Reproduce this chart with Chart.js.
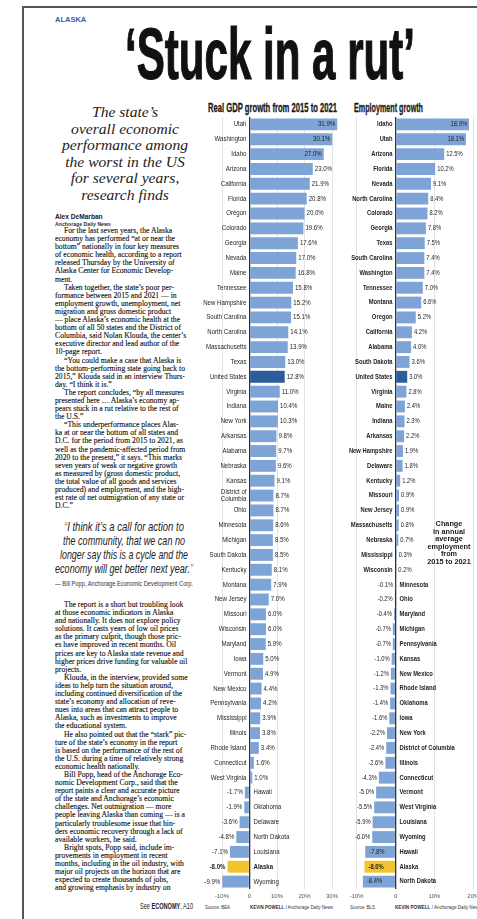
<!DOCTYPE html>
<html>
<head>
<meta charset="utf-8">
<script src="https://cdn.jsdelivr.net/npm/chart.js@4"></script>
<style>
  html, body { margin: 0; padding: 0; background: #fff; overflow: hidden; width: 477px; height: 919px; }
  body { position: relative; color: #1a1a1a; }
  .abs { position: absolute; white-space: nowrap; }
  .frame { position: absolute; left: 22px; top: 6px; width: 470px; height: 930px; border-left: 2px solid #555; border-top: 2px solid #555; }
  .sans { font-family: "Liberation Sans", Arimo, Arial, sans-serif; }
  .serif { font-family: "Liberation Serif", "DejaVu Serif", serif; }
  .body { left: 55px; width: 140px; font-size: 7.7px; line-height: 8.1px; color: #111; -webkit-text-stroke: 0.12px #111; }
  .body div { white-space: nowrap; }
  .body .in { text-indent: 9px; }
  .deck { left: 55px; width: 140px; text-align: center; font-style: italic; font-size: 15.6px; line-height: 16.6px; color: #222; }
  .ql { font-style: italic; font-size: 12.6px; line-height: 14px; color: #222; }
  .ql .q { color: #888; }
  .note { left: 420px; width: 58px; text-align: center; font-weight: bold; font-size: 7.3px; line-height: 7.6px; }
  .credit { font-size: 5.6px; color: #333; }
  canvas { position: absolute; }
</style>
</head>
<body>
<div class="frame"></div>
<div class="abs sans" style="left:55px;top:15px;font-size:7.5px;font-weight:bold;color:#2f62b0;">ALASKA</div>
<div class="abs sans" data-w="290" style="left:125px;top:18px;font-size:72px;line-height:72px;font-weight:bold;color:#111;-webkit-text-stroke:1.2px #111;">‘Stuck in a rut’</div>

<div class="abs deck serif" style="top:104px;">The state’s<br>overall economic<br>performance among<br>the worst in the US<br>for several years,<br>research finds</div>

<div class="abs sans" style="left:55px;top:213px;font-size:6.6px;font-weight:bold;">Alex DeMarban</div>
<div class="abs sans" style="left:55px;top:220.5px;font-size:5.2px;font-weight:bold;color:#333;">Anchorage Daily News</div>

<div class="abs body serif" style="top:227px;">
<div class="in">For the last seven years, the Alaska</div>
<div>economy has performed “at or near the</div>
<div>bottom” nationally in four key measures</div>
<div>of economic health, according to a report</div>
<div>released Thursday by the University of</div>
<div>Alaska Center for Economic Develop-</div>
<div>ment.</div>
<div class="in">Taken together, the state’s poor per-</div>
<div>formance between 2015 and 2021 — in</div>
<div>employment growth, unemployment, net</div>
<div>migration and gross domestic product</div>
<div>— place Alaska’s economic health at the</div>
<div>bottom of all 50 states and the District of</div>
<div>Columbia, said Nolan Klouda, the center’s</div>
<div>executive director and lead author of the</div>
<div>10-page report.</div>
<div class="in">“You could make a case that Alaska is</div>
<div>the bottom-performing state going back to</div>
<div>2015,” Klouda said in an interview Thurs-</div>
<div>day. “I think it is.”</div>
<div class="in">The report concludes, “by all measures</div>
<div>presented here … Alaska’s economy ap-</div>
<div>pears stuck in a rut relative to the rest of</div>
<div>the U.S.”</div>
<div class="in">“This underperformance places Alas-</div>
<div>ka at or near the bottom of all states and</div>
<div>D.C. for the period from 2015 to 2021, as</div>
<div>well as the pandemic-affected period from</div>
<div>2020 to the present,” it says. “This marks</div>
<div>seven years of weak or negative growth</div>
<div>as measured by (gross domestic product,</div>
<div>the total value of all goods and services</div>
<div>produced) and employment, and the high-</div>
<div>est rate of net outmigration of any state or</div>
<div>D.C.”</div>
</div>

<div class="abs ql sans" data-w="120" style="left:64px;top:520px;"><span class="q">“</span>I think it’s a call for action to</div>
<div class="abs ql sans" data-w="122" style="left:63px;top:534px;">the community, that we can no</div>
<div class="abs ql sans" data-w="128" style="left:60px;top:548px;">longer say this is a cycle and the</div>
<div class="abs ql sans" data-w="138" style="left:55px;top:562px;">economy will get better next year.<span class="q">”</span></div>
<div class="abs sans" data-w="138" style="left:55px;top:580px;font-size:6.3px;color:#333;">— Bill Popp, Anchorage Economic Development Corp.</div>

<div class="abs body serif" style="top:601px;">
<div class="in">The report is a short but troubling look</div>
<div>at those economic indicators in Alaska</div>
<div>and nationally. It does not explore policy</div>
<div>solutions. It casts years of low oil prices</div>
<div>as the primary culprit, though those pric-</div>
<div>es have improved in recent months. Oil</div>
<div>prices are key to Alaska state revenue and</div>
<div>higher prices drive funding for valuable oil</div>
<div>projects.</div>
<div class="in">Klouda, in the interview, provided some</div>
<div>ideas to help turn the situation around,</div>
<div>including continued diversification of the</div>
<div>state’s economy and allocation of reve-</div>
<div>nues into areas that can attract people to</div>
<div>Alaska, such as investments to improve</div>
<div>the educational system.</div>
<div class="in">He also pointed out that the “stark” pic-</div>
<div>ture of the state’s economy in the report</div>
<div>is based on the performance of the rest of</div>
<div>the U.S. during a time of relatively strong</div>
<div>economic health nationally.</div>
<div class="in">Bill Popp, head of the Anchorage Eco-</div>
<div>nomic Development Corp., said that the</div>
<div>report paints a clear and accurate picture</div>
<div>of the state and Anchorage’s economic</div>
<div>challenges. Net outmigration — more</div>
<div>people leaving Alaska than coming — is a</div>
<div>particularly troublesome issue that hin-</div>
<div>ders economic recovery through a lack of</div>
<div>available workers, he said.</div>
<div class="in">Bright spots, Popp said, include im-</div>
<div>provements in employment in recent</div>
<div>months, including in the oil industry, with</div>
<div>major oil projects on the horizon that are</div>
<div>expected to create thousands of jobs,</div>
<div>and growing emphasis by industry on</div>
</div>
<div class="abs sans" data-w="53" style="left:140px;top:901px;font-size:8.6px;">See <b>ECONOMY</b>, A10</div>

<div class="abs sans" data-w="129" style="left:208px;top:100px;font-size:13px;line-height:15px;font-weight:bold;-webkit-text-stroke:0.3px #111;">Real GDP growth from 2015 to 2021</div>
<div class="abs sans" data-w="69" style="left:354px;top:100px;font-size:13px;line-height:15px;font-weight:bold;-webkit-text-stroke:0.3px #111;">Employment growth</div>

<canvas id="gdpChart" width="143" height="784" style="left:200px;top:117px;"></canvas>
<canvas id="empChart" width="140" height="784" style="left:345px;top:117px;"></canvas>

<div class="abs note sans" style="top:520px;">Change<br>in annual<br>average<br>employment<br>from<br>2015 to 2021</div>

<div class="abs credit sans" data-w="25" style="left:205px;top:904px;">Source: BEA</div>
<div class="abs credit sans" data-w="83" style="left:250px;top:904px;"><b>KEVIN POWELL</b> / Anchorage Daily News</div>
<div class="abs credit sans" data-w="25" style="left:350px;top:904px;">Source: BLS</div>
<div class="abs credit sans" data-w="86" style="left:395px;top:904px;"><b>KEVIN POWELL</b> / Anchorage Daily News</div>

<script>
const gdpStates = ["Utah", "Washington", "Idaho", "Arizona", "California", "Florida", "Oregon", "Colorado",
  "Georgia", "Nevada", "Maine", "Tennessee", "New Hampshire", "South Carolina", "North Carolina",
  "Massachusetts", "Texas", "United States", "Virginia", "Indiana", "New York", "Arkansas", "Alabama",
  "Nebraska", "Kansas", ["District of", "Columbia"], "Ohio", "Minnesota", "Michigan", "South Dakota",
  "Kentucky", "Montana", "New Jersey", "Missouri", "Wisconsin", "Maryland", "Iowa", "Vermont",
  "New Mexico", "Pennsylvania", "Mississippi", "Illinois", "Rhode Island", "Connecticut",
  "West Virginia", "Hawaii", "Oklahoma", "Delaware", "North Dakota", "Louisiana", "Alaska", "Wyoming"];
const gdpValues = [31.9, 30.1, 27.0, 23.0, 21.9, 20.8, 20.0, 19.6, 17.6, 17.0, 16.8, 15.8, 15.2, 15.1,
  14.1, 13.9, 13.0, 12.8, 11.0, 10.4, 10.3, 9.8, 9.7, 9.6, 9.1, 8.7, 8.7, 8.6, 8.5, 8.5, 8.1, 7.9, 7.0,
  6.0, 6.0, 5.9, 5.0, 4.9, 4.4, 4.2, 3.9, 3.8, 3.4, 1.6, 1.0, -1.7, -1.9, -3.6, -4.8, -7.1, -8.0, -9.9];
const gdpTicks = [-10, 0, 10, 20, 30];

const empStates = ["Idaho", "Utah", "Arizona", "Florida", "Nevada", "North Carolina", "Colorado", "Georgia",
  "Texas", "South Carolina", "Washington", "Tennessee", "Montana", "Oregon", "California", "Alabama",
  "South Dakota", "United States", "Virginia", "Maine", "Indiana", "Arkansas", "New Hampshire",
  "Delaware", "Kentucky", "Missouri", "New Jersey", "Massachusetts", "Nebraska", "Mississippi",
  "Wisconsin", "Minnesota", "Ohio", "Maryland", "Michigan", "Pennsylvania", "Kansas", "New Mexico",
  "Rhode Island", "Oklahoma", "Iowa", "New York", "District of Columbia", "Illinois", "Connecticut",
  "Vermont", "West Virginia", "Louisiana", "Wyoming", "Hawaii", "Alaska", "North Dakota"];
const empValues = [18.9, 18.1, 12.5, 10.2, 9.1, 8.4, 8.2, 7.8, 7.5, 7.4, 7.4, 7.0, 6.6, 5.2, 4.2, 4.0,
  3.6, 3.0, 2.8, 2.4, 2.3, 2.2, 1.9, 1.8, 1.2, 0.9, 0.9, 0.8, 0.7, 0.3, 0.2, -0.1, -0.2, -0.4, -0.7,
  -0.7, -1.0, -1.2, -1.3, -1.4, -1.6, -2.2, -2.4, -2.6, -4.3, -5.0, -5.5, -5.9, -6.0, -7.8, -8.0, -8.4];
const empTicks = [-10, 0, 10, 20];

const FONT = '"Liberation Sans", Arimo, Arial, sans-serif';
const BLUE = "#7ea4d7", DARK = "#2d5c9b", GOLD = "#f2c32c";
const SQUEEZE = 0.87; // the print font is a condensed gothic

// stretch/squeeze headline texts to the widths in the print layout
document.querySelectorAll("[data-w]").forEach(el => {
  const w = el.getBoundingClientRect().width;
  el.style.transformOrigin = "left top";
  el.style.transform = "scaleX(" + (+el.dataset.w / w) + ")";
});

function nameOf(l) { return Array.isArray(l) ? l.join(" ") : l; }

function barColors(states) {
  return states.map(s => {
    const n = nameOf(s);
    if (n === "United States") return DARK;
    if (n === "Alaska") return GOLD;
    return BLUE;
  });
}

function condensedText(ctx, txt, x, y) {
  ctx.fillText(txt, x, y, ctx.measureText(txt).width * SQUEEZE);
}

// state names beside the zero line, value labels at bar ends
function barText(cfg) {
  return {
    id: "barText",
    afterDatasetsDraw(chart) {
      const ctx = chart.ctx;
      const meta = chart.getDatasetMeta(0);
      const values = chart.data.datasets[0].data;
      const x0 = chart.scales.x.getPixelForValue(0);
      ctx.save();
      ctx.textBaseline = "middle";
      ctx.fillStyle = "#1e1e1e";
      meta.data.forEach((bar, i) => {
        const v = values[i];
        const label = chart.data.labels[i];
        const ak = nameOf(label) === "Alaska";
        const lines = Array.isArray(label) ? label : [label];
        ctx.font = (cfg.boldNames || ak ? "bold " : "") + cfg.size + "px " + FONT;
        const nx = v >= 0 ? x0 - 3 : x0 + 4;
        ctx.textAlign = v >= 0 ? "right" : "left";
        lines.forEach((ln, k) => {
          condensedText(ctx, ln, nx, bar.y + (k - (lines.length - 1) / 2) * 7);
        });

        ctx.font = (ak ? "bold " : "") + cfg.size + "px " + FONT;
        const txt = v.toFixed(1) + "%";
        if (v >= 0) {
          const inside = v >= cfg.insidePos;
          ctx.textAlign = inside ? "right" : "left";
          condensedText(ctx, txt, inside ? bar.x - 2 : bar.x + 2, bar.y);
        } else {
          const inside = v <= -cfg.insideNeg;
          ctx.textAlign = inside ? "left" : "right";
          condensedText(ctx, txt, inside ? bar.x + 4 : bar.x - 2, bar.y);
        }
      });
      ctx.restore();
    }
  };
}

function makeChart(id, states, values, ticks, min, max, cfg) {
  return new Chart(document.getElementById(id), {
    type: "bar",
    data: {
      labels: states,
      datasets: [{
        data: values,
        backgroundColor: barColors(states),
        borderWidth: 0,
        barPercentage: 0.8,
        categoryPercentage: 1
      }]
    },
    options: {
      indexAxis: "y",
      responsive: false,
      animation: false,
      devicePixelRatio: 1,
      layout: { padding: 0 },
      plugins: { legend: { display: false }, tooltip: { enabled: false } },
      scales: {
        y: { display: false },
        x: {
          min: min,
          max: max,
          afterBuildTicks: s => { s.ticks = ticks.map(v => ({ value: v })); },
          afterFit: s => { s.height = 12; },
          border: { display: false },
          grid: {
            drawTicks: false,
            color: c => (c.tick && c.tick.value === 0 ? "#333" : "#dcdcdc"),
            lineWidth: c => (c.tick && c.tick.value === 0 ? 1.3 : 0.8)
          },
          ticks: {
            padding: 4,
            color: "#555",
            maxRotation: 0,
            font: { family: FONT, size: 6 },
            callback: v => (v === 0 ? "0" : v + "%")
          }
        }
      }
    },
    plugins: [barText(cfg)]
  });
}

makeChart("gdpChart", gdpStates, gdpValues, gdpTicks, -18, 34,
  { size: 7, boldNames: false, insidePos: 25, insideNeg: 99 });
makeChart("empChart", empStates, empValues, empTicks, -13, 23,
  { size: 6.7, boldNames: true, insidePos: 15, insideNeg: 7 });
</script>
</body>
</html>
